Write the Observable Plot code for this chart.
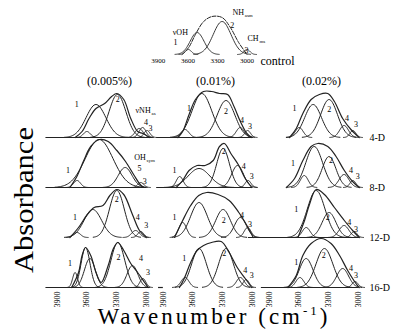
<!DOCTYPE html>
<html><head><meta charset="utf-8">
<script src="https://cdn.jsdelivr.net/npm/d3@7"></script>
<script src="https://cdn.jsdelivr.net/npm/@observablehq/plot@0.6"></script>
<style>
body{margin:0;background:#fff;}
#wrap{position:relative;width:399px;height:329px;overflow:hidden;background:#fff;}
#wrap svg{position:absolute;left:0;top:0;}
</style></head>
<body><div id="wrap"></div>
<script>
// ---- categories & ticks ----
const concentrations = ["(0.005%)", "(0.01%)", "(0.02%)"];
const storageDays = ["4-D", "8-D", "12-D", "16-D"];
const xTicks = [3900, 3600, 3300, 3000];

// ---- measured envelopes: [wavenumber cm-1, relative absorbance] ----
const envControl = [[3659,0],[3592,7],[3524,20],[3440,33],[3355,38],[3253,37],[3169,27],[3085,12],[3000,0]];
const env4D_005 = [[3720,0],[3649,6],[3579,19],[3508,29],[3420,34],[3349,41],[3296,44],[3226,38],[3155,19],[3085,6],[3032,4],[2961,0]];
const env4D_01  = [[3753,0],[3704,6],[3639,23],[3574,38],[3492,46],[3411,46],[3330,44],[3248,43],[3183,31],[3118,16],[3052,4],[3003,0]];
const env4D_02  = [[3695,0],[3627,9],[3560,24],[3476,38],[3392,43],[3307,44],[3240,36],[3156,19],[3072,8],[2988,0]];
const env8D_005 = [[3773,0],[3702,11],[3632,27],[3561,41],[3473,48],[3384,46],[3296,37],[3208,26],[3120,12],[3050,2],[3014,0]];
const env8D_01  = [[3770,0],[3704,7],[3639,17],[3558,22],[3476,22],[3394,27],[3330,41],[3281,44],[3215,34],[3134,22],[3069,9],[3003,0]];
const env8D_02  = [[3728,0],[3644,9],[3560,27],[3476,41],[3408,44],[3307,41],[3223,31],[3139,17],[3055,6],[2988,0]];
const env12D_005 = [[3773,0],[3685,10],[3596,23],[3526,30],[3437,32],[3367,42],[3296,48],[3226,43],[3138,23],[3067,7],[2997,0]];
const env12D_01  = [[3786,0],[3704,17],[3623,32],[3541,42],[3460,45],[3345,43],[3232,37],[3134,25],[3052,12],[2988,0]];
const env12D_02  = [[3610,0],[3543,17],[3493,33],[3425,48],[3341,43],[3240,30],[3139,17],[3055,7],[2988,0]];
const env16D_005 = [[3755,0],[3685,15],[3649,32],[3614,40],[3561,32],[3508,15],[3455,5],[3384,22],[3331,39],[3286,45],[3226,37],[3155,24],[3085,15],[3014,5],[2979,0]];
const env16D_01  = [[3737,0],[3688,9],[3623,25],[3558,37],[3492,42],[3411,45],[3313,46],[3232,35],[3150,20],[3069,9],[3003,0]];
const env16D_02  = [[3711,0],[3627,12],[3560,32],[3476,44],[3375,49],[3274,44],[3187,32],[3105,17],[3021,4],[2988,0]];

// ---- fitted component bands: [centre cm-1, peak height, width sigma cm-1] ----
const bandsControl = [[3595,5,30],[3507,22,70],[3253,33,90],[3000,5,30]];
const bands4D_005 = [[3600,6,35],[3508,33,100],[3290,43,85],[3070,9,40],[3035,10,35],[2990,7,30]];
const bands4D_01  = [[3680,8,40],[3509,44,100],[3264,37,90],[3120,10,40],[3045,7,30]];
const bands4D_02  = [[3597,10,40],[3456,33,85],[3294,38,85],[3142,12,45],[3052,7,30]];
const bands8D_005 = [[3700,7,35],[3476,48,140],[3212,20,70],[3053,5,30]];
const bands8D_01  = [[3734,11,35],[3538,19,110],[3294,39,65],[3147,22,60],[3040,7,30]];
const bands8D_02  = [[3546,12,40],[3445,41,85],[3294,31,70],[3142,13,50],[3052,7,30]];
const bands12D_005 = [[3700,5,35],[3540,28,90],[3296,47,75],[3106,7,40],[3053,6,30]];
const bands12D_01  = [[3704,15,40],[3538,35,85],[3294,28,75],[3118,20,60],[3045,10,35]];
const bands12D_02  = [[3526,10,40],[3425,47,90],[3294,25,70],[3142,12,50],[3040,6,30]];
const bands16D_005 = [[3720,15,25],[3614,40,45],[3570,29,55],[3286,45,70],[3138,22,55],[3032,9,30]];
const bands16D_01  = [[3680,10,40],[3538,39,75],[3264,39,75],[3118,10,40],[3060,8,30]];
const bands16D_02  = [[3590,10,40],[3527,29,70],[3341,39,85],[3156,19,60],[3030,6,30]];

// ---- band labels: [text, subscript, wavenumber, height] ----
const labelsControl = [["νOH","",3677,22],["1","",3727,12],["NH","asm",3090,42],["2","",3149,29],["CH","ms",2940,16],["3","",3005,4]];
const labels4D_005 = [["1","",3702,33],["2","",3286,38],["νNH","as",3030,27],["4","",3000,15],["3","",2955,9]];
const labels4D_01  = [["1","",3639,29],["2","",3264,26],["4","",3101,17],["3","",3020,11]];
const labels4D_02  = [["1","",3644,29],["2","",3291,28],["4","",3112,19],["3","",3021,13]];
const labels8D_005 = [["1","",3791,17],["OH","sym",3060,30],["5","",3067,19],["3","",3014,6]];
const labels8D_01  = [["1","",3786,17],["2","",3287,36],["4","",3085,21],["3","",3003,11]];
const labels8D_02  = [["1","",3661,24],["2","",3274,27],["4","",3072,17],["3","",3004,11]];
const labels12D_005 = [["1","",3720,20],["2","",3296,38],["4","",3085,20],["3","",2997,12]];
const labels12D_01  = [["1","",3786,20],["2","",3287,17],["4","",3101,22],["3","",3020,13]];
const labels12D_02  = [["1","",3627,28],["2","",3307,20],["4","",3089,15],["3","",3021,8]];
const labels16D_005 = [["1","",3773,24],["2","",3279,30],["4","",3050,29],["3","",2979,15]];
const labels16D_01  = [["1","",3688,29],["2","",3281,34],["4","",3069,17],["3","",3003,12]];
const labels16D_02  = [["1","",3627,25],["2","",3348,32],["4","",3072,19],["3","",3021,12]];

// ---- drawn baselines: [from cm-1, to cm-1] (null = none) ----
const base4D  = [[4016,2926],[3968,2990],null];
const base8D  = [[4016,2990],[3968,2990],null];
const base12D = [null,null,[4112,2988]];
const base16D = [[4016,2960],[3949,3900],[3981,2991]];

// ---- build panel table ----
const envs = [[env4D_005,env4D_01,env4D_02],[env8D_005,env8D_01,env8D_02],[env12D_005,env12D_01,env12D_02],[env16D_005,env16D_01,env16D_02]];
const bands = [[bands4D_005,bands4D_01,bands4D_02],[bands8D_005,bands8D_01,bands8D_02],[bands12D_005,bands12D_01,bands12D_02],[bands16D_005,bands16D_01,bands16D_02]];
const labels = [[labels4D_005,labels4D_01,labels4D_02],[labels8D_005,labels8D_01,labels8D_02],[labels12D_005,labels12D_01,labels12D_02],[labels16D_005,labels16D_01,labels16D_02]];
const bases = [base4D, base8D, base12D, base16D];

function bandCurve(b, id, extra) {
  const [c, h, s] = b; const out = [];
  for (let k = -32; k <= 32; k++) {
    const w = c + k * s / 10;
    out.push({id, wn: w, a: h * Math.exp(-((w - c) ** 2) / (2 * s * s)), ...extra});
  }
  return out;
}

const envRows = [], bandRows = [], labelRows = [], baseRows = [];
storageDays.forEach((day, r) => concentrations.forEach((conc, c) => {
  const key = day + conc;
  envs[r][c].forEach(([wn, a]) => envRows.push({id: key, wn, a, day, conc}));
  bands[r][c].forEach((b, i) => bandRows.push(...bandCurve(b, key + i, {day, conc})));
  labels[r][c].forEach(([t, sub, wn, a]) => labelRows.push({t, sub, wn, a, day, conc}));
  if (bases[r][c]) baseRows.push({x1: bases[r][c][0], x2: bases[r][c][1], day, conc});
}));
const sub2 = labelRows.filter(d => d.sub && d.t.length === 2);
const sub3 = labelRows.filter(d => d.sub && d.t.length === 3);

const INK = "black";
const SERIF = "'Liberation Serif', 'DejaVu Serif', serif";

const main = Plot.plot({
  width: 399, height: 329,
  marginLeft: 48, marginRight: 33, marginTop: 86, marginBottom: 42,
  style: {fontFamily: SERIF, fontSize: "8px", background: "transparent", color: INK},
  fx: {domain: concentrations, padding: 0, axis: null},
  fy: {domain: storageDays, padding: 0, axis: null},
  x: {domain: [3990, 2914], ticks: xTicks, tickFormat: d => String(d), tickRotate: -90, tickSize: 0, tickPadding: 4, label: null},
  y: {domain: [0, 50], axis: null},
  marks: [
    Plot.ruleY(baseRows, {x1: "x1", x2: "x2", y: 0, fx: "conc", fy: "day", stroke: "#222", strokeWidth: 1.2}),
    Plot.line(bandRows, {x: "wn", y: "a", z: "id", fx: "conc", fy: "day", stroke: "#222", strokeWidth: 1}),
    Plot.line(envRows, {x: "wn", y: "a", z: "id", fx: "conc", fy: "day", stroke: "#222", strokeWidth: 1.2, curve: "catmull-rom"}),
    Plot.text(labelRows, {x: "wn", y: "a", fx: "conc", fy: "day", text: "t", fontSize: 8, fill: INK}),
    Plot.text(sub2, {x: "wn", y: "a", fx: "conc", fy: "day", text: "sub", textAnchor: "start", dx: 6.5, dy: 2.5, fontSize: 5, fill: INK}),
    Plot.text(sub3, {x: "wn", y: "a", fx: "conc", fy: "day", text: "sub", textAnchor: "start", dx: 8.5, dy: 2.5, fontSize: 5, fill: INK}),
    Plot.text(concentrations, {fx: d => d, fy: () => "4-D", text: d => d, frameAnchor: "top", lineAnchor: "bottom", dy: -3, dx: 8, fontSize: 12, fill: INK}),
    Plot.text(storageDays, {fy: d => d, fx: () => "(0.02%)", text: d => d, frameAnchor: "bottom-right", textAnchor: "start", lineAnchor: "middle", dx: 3, dy: 0, fontSize: 10, fill: INK})
  ]
});
main.setAttribute("width", 399); main.setAttribute("height", 329);
document.getElementById("wrap").appendChild(main);

const ms = d3.select(main);
ms.append("text")
  .attr("transform", "translate(33,200) rotate(-90)")
  .attr("text-anchor", "middle")
  .attr("font-family", SERIF).attr("font-size", 28).attr("fill", INK)
  .attr("textLength", 146).attr("lengthAdjust", "spacingAndGlyphs")
  .text("Absorbance");
const wl = ms.append("text")
  .attr("x", 214).attr("y", 324).attr("text-anchor", "middle")
  .attr("font-family", SERIF).attr("font-size", 23).attr("fill", INK)
  .style("letter-spacing", "3px");
wl.append("tspan").text("Wavenumber (cm");
wl.append("tspan").attr("dy", -9).attr("font-size", 13).text("-1");
wl.append("tspan").attr("dy", 9).text(")");

// ---- control spectrum ----
const ctlEnv = envControl.map(([wn, a]) => ({id: "env", wn, a}));
const ctlBands = bandsControl.flatMap((b, i) => bandCurve(b, "b" + i, {}));
const ctlLabels = labelsControl.map(([t, sub, wn, a]) => ({t, sub, wn, a}));
const ctl = Plot.plot({
  width: 399, height: 70,
  marginLeft: 149, marginRight: 144, marginTop: 4, marginBottom: 16,
  style: {fontFamily: SERIF, fontSize: "7px", background: "transparent", color: INK},
  x: {domain: [3990, 2914], ticks: xTicks, tickFormat: d => String(d), tickSize: 0, tickPadding: 4, label: null},
  y: {domain: [0, 50], axis: null},
  marks: [
    Plot.line(ctlBands, {x: "wn", y: "a", z: "id", stroke: "#222", strokeWidth: 0.9}),
    Plot.line(ctlEnv, {x: "wn", y: "a", z: "id", stroke: "#222", strokeWidth: 1, strokeDasharray: "4,1.5", curve: "catmull-rom"}),
    Plot.text(ctlLabels, {x: "wn", y: "a", text: "t", fontSize: 8, fill: INK}),
    Plot.text(ctlLabels.filter(d => d.sub), {x: "wn", y: "a", text: "sub", textAnchor: "start", dx: 6.5, dy: 2.5, fontSize: 5, fill: INK}),
    Plot.text(["control"], {frameAnchor: "bottom-right", textAnchor: "start", lineAnchor: "middle", dx: 5, dy: 7, text: d => d, fontSize: 12, fill: INK})
  ]
});
ctl.setAttribute("width", 399); ctl.setAttribute("height", 70);
document.getElementById("wrap").appendChild(ctl);
</script></body></html>
